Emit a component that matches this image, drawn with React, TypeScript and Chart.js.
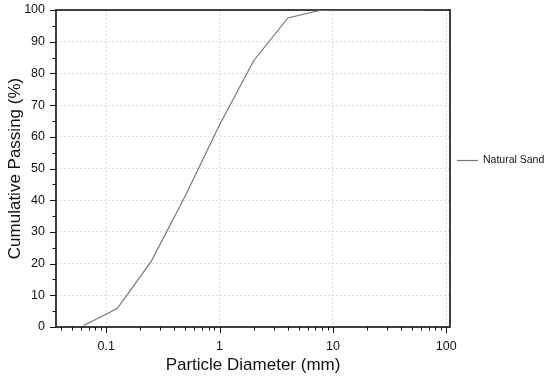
import React, { useEffect, useRef } from 'react';
import { Chart, registerables } from 'chart.js';

Chart.register(...registerables);

const particleSizes = [0.063, 0.125, 0.25, 0.5, 1, 2, 4, 8, 16, 31.5, 63];
const cumulativePassing = [0.5, 5.8, 20.8, 41.5, 63.8, 84, 97.5, 100, 100, 100, 100];
const seriesLabel = 'Natural Sand';
const xMajorTicks = [0.1, 1, 10, 100];
const xMinorTicks = [0.04, 0.05, 0.06, 0.07, 0.08, 0.09, 0.2, 0.3, 0.4, 0.5, 0.6, 0.7, 0.8, 0.9, 2, 3, 4, 5, 6, 7, 8, 9, 20, 30, 40, 50, 60, 70, 80, 90];
const yMajorTicks = [0, 10, 20, 30, 40, 50, 60, 70, 80, 90, 100];
const yMinorTicks = [5, 15, 25, 35, 45, 55, 65, 75, 85, 95];
const xTitle = 'Particle Diameter (mm)';
const yTitle = 'Cumulative Passing (%)';

const FONT = "'Liberation Sans', Arial, sans-serif";

const framePlugin = {
  id: 'frameAndTicks',
  beforeDatasetsDraw(chart: any) {
    const { ctx, chartArea, scales } = chart;
    const { left, right, top, bottom } = chartArea;
    const xs = scales.x;
    const ys = scales.y;
    ctx.save();
    ctx.strokeStyle = '#111';
    ctx.lineWidth = 1;
    ctx.beginPath();
    xMajorTicks.forEach((v) => {
      const px = Math.round(xs.getPixelForValue(v)) + 0.5;
      ctx.moveTo(px, bottom);
      ctx.lineTo(px, bottom + 6);
    });
    xMinorTicks.forEach((v) => {
      const px = Math.round(xs.getPixelForValue(v)) + 0.5;
      ctx.moveTo(px, bottom);
      ctx.lineTo(px, bottom + 3.5);
    });
    yMajorTicks.forEach((v) => {
      const py = Math.round(ys.getPixelForValue(v)) + 0.5;
      ctx.moveTo(left, py);
      ctx.lineTo(left - 6, py);
    });
    yMinorTicks.forEach((v) => {
      const py = Math.round(ys.getPixelForValue(v)) + 0.5;
      ctx.moveTo(left, py);
      ctx.lineTo(left - 3.5, py);
    });
    ctx.stroke();
    ctx.lineWidth = 1.6;
    ctx.strokeRect(left, top, right - left, bottom - top);
    ctx.restore();
  },
  afterDraw(chart: any) {
    const { ctx, chartArea } = chart;
    const ds = chart.data.datasets[0];
    const y = (chartArea.top + chartArea.bottom) / 2 - 8;
    const x0 = chartArea.right + 7;
    ctx.save();
    ctx.strokeStyle = ds.borderColor;
    ctx.lineWidth = 1.2;
    ctx.beginPath();
    ctx.moveTo(x0, y);
    ctx.lineTo(x0 + 21, y);
    ctx.stroke();
    ctx.fillStyle = '#111';
    ctx.font = `10.5px ${FONT}`;
    ctx.textBaseline = 'middle';
    ctx.textAlign = 'left';
    ctx.fillText(ds.label, x0 + 26, y);
    ctx.restore();
  },
};

export default function App() {
  const ref = useRef<HTMLCanvasElement | null>(null);

  useEffect(() => {
    document.body.style.margin = '0';
    const canvas = ref.current;
    if (!canvas) return;
    const chart = new Chart(canvas, {
      type: 'line',
      data: {
        datasets: [
          {
            label: seriesLabel,
            data: particleSizes.map((x, i) => ({ x, y: cumulativePassing[i] })),
            borderColor: '#777777',
            borderWidth: 1.2,
            pointRadius: 0,
            fill: false,
            tension: 0,
          },
        ],
      },
      options: {
        responsive: false,
        animation: false,
        devicePixelRatio: 1,
        layout: { padding: { top: 10, right: 100, left: 0, bottom: 0 } },
        plugins: {
          legend: { display: false },
          tooltip: { enabled: false },
        },
        scales: {
          x: {
            type: 'logarithmic',
            min: 0.036,
            max: 108,
            afterBuildTicks(scale: any) {
              scale.ticks = xMajorTicks.map((v) => ({ value: v, major: true }));
            },
            afterFit(scale: any) {
              scale.height = 54;
              scale.paddingLeft = 0;
              scale.paddingRight = 0;
            },
            ticks: {
              autoSkip: false,
              maxRotation: 0,
              padding: 12,
              color: '#111',
              font: { family: FONT, size: 12.5 },
              callback: (v: any) => String(v),
            },
            grid: {
              drawTicks: false,
              color: '#dadada',
              lineWidth: 1,
            },
            border: { display: false, dash: [2, 2] },
            title: {
              display: true,
              text: xTitle,
              color: '#111',
              font: { family: FONT, size: 17 },
              padding: { top: 0, bottom: 5 },
            },
          },
          y: {
            type: 'linear',
            min: 0,
            max: 100,
            afterBuildTicks(scale: any) {
              scale.ticks = yMajorTicks.map((v) => ({ value: v }));
            },
            afterFit(scale: any) {
              scale.width = 56;
              scale.paddingTop = 0;
              scale.paddingBottom = 0;
            },
            ticks: {
              padding: 11,
              color: '#111',
              font: { family: FONT, size: 12.5 },
            },
            grid: {
              drawTicks: false,
              color: '#dadada',
              lineWidth: 1,
            },
            border: { display: false, dash: [2, 2] },
            title: {
              display: true,
              text: yTitle,
              color: '#111',
              font: { family: FONT, size: 17 },
              padding: { top: 5, bottom: 0 },
            },
          },
        },
      } as any,
      plugins: [framePlugin],
    });
    return () => chart.destroy();
  }, []);

  return (
    <div style={{ width: 550, height: 381 }}>
      <canvas ref={ref} width={550} height={381} style={{ display: 'block' }} />
    </div>
  );
}
